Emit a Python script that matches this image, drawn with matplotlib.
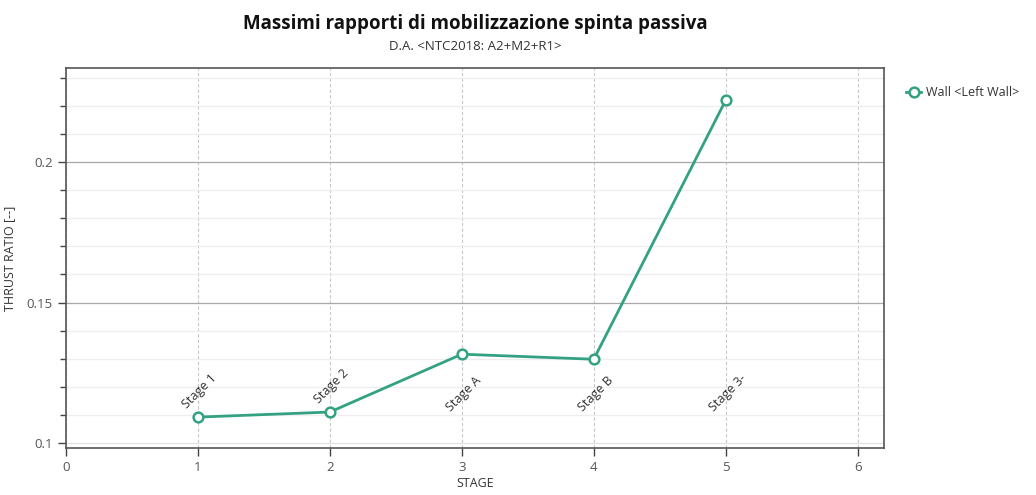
import numpy as np
import matplotlib
matplotlib.use("Agg")
import matplotlib.pyplot as plt
from matplotlib.ticker import MultipleLocator

plt.rcParams['font.family'] = ['Open Sans', 'DejaVu Sans']

# data
stage_idx    = [1, 2, 3, 4, 5]
stage_names  = ["Stage 1", "Stage 2", "Stage A", "Stage B", "Stage 3-"]
thrust_ratio = [0.1092, 0.1110, 0.1316, 0.1298, 0.2220]
series_name  = "Wall <Left Wall>"

LINE_COLOR = '#33a283'
TXT        = '#333333'

fig = plt.figure(figsize=(10.36, 4.95), dpi=100)
ax = fig.add_axes([66/1036, 1 - 448/495, (884-66)/1036, (448-68)/495])

ax.plot(stage_idx, thrust_ratio, color=LINE_COLOR, linewidth=2,
        marker='o', markersize=7, markerfacecolor='white',
        markeredgecolor=LINE_COLOR, markeredgewidth=1.8,
        label=series_name, zorder=3)

# stage labels near the bottom, lifted above the point when it sits low
for x, y, name in zip(stage_idx, thrust_ratio, stage_names):
    ty = y + 0.0022 if y < 0.112 else 0.1104
    ax.text(x - 0.07, ty, name, rotation=45, rotation_mode='anchor',
            ha='left', va='bottom', fontsize=9, color=TXT, zorder=4)

ax.set_xlim(0, 6.2)
ax.set_ylim(0.0982, 0.2335)
ax.xaxis.set_major_locator(MultipleLocator(1))
ax.yaxis.set_minor_locator(MultipleLocator(0.01))
ax.set_yticks([0.1, 0.15, 0.2])
ax.set_yticklabels(["0.1", "0.15", "0.2"])

ax.grid(True, axis='x', which='major', color='#c8c8c8', linestyle=(0, (3, 2)),
        linewidth=0.8)
ax.grid(True, axis='y', which='major', color='#a8a8a8', linewidth=0.9)
ax.grid(True, axis='y', which='minor', color='#eeeeee', linewidth=0.9)
ax.yaxis.get_gridlines()[0].set_color('#e2e2e2')
ax.set_axisbelow(True)

ax.tick_params(axis='both', which='major', direction='out', length=6,
               width=1, colors='#444444', labelcolor='#555555', labelsize=9.5)
ax.tick_params(axis='y', which='minor', direction='out', length=4,
               width=1, colors='#444444')
for sp in ax.spines.values():
    sp.set_color('#555555')
    sp.set_linewidth(1.2)

ax.set_xlabel("STAGE", fontsize=9, color=TXT, labelpad=2)
ax.set_ylabel("THRUST RATIO [--]", fontsize=9, color=TXT, labelpad=8)

fig.text(475/1036, 1 - 24/495, "Massimi rapporti di mobilizzazione spinta passiva",
         ha='center', va='center', fontsize=13.5, fontweight='bold', color='#111111')
fig.text(475/1036, 1 - 46/495, "D.A. <NTC2018: A2+M2+R1>",
         ha='center', va='center', fontsize=9.5, color=TXT)

fig.legend(loc='upper left', bbox_to_anchor=(895/1036, 1 - 75/495),
           frameon=False, fontsize=9, handlelength=1.2, handletextpad=0.4,
           labelcolor=TXT)

fig.savefig("out.png", dpi=100, facecolor='white')
